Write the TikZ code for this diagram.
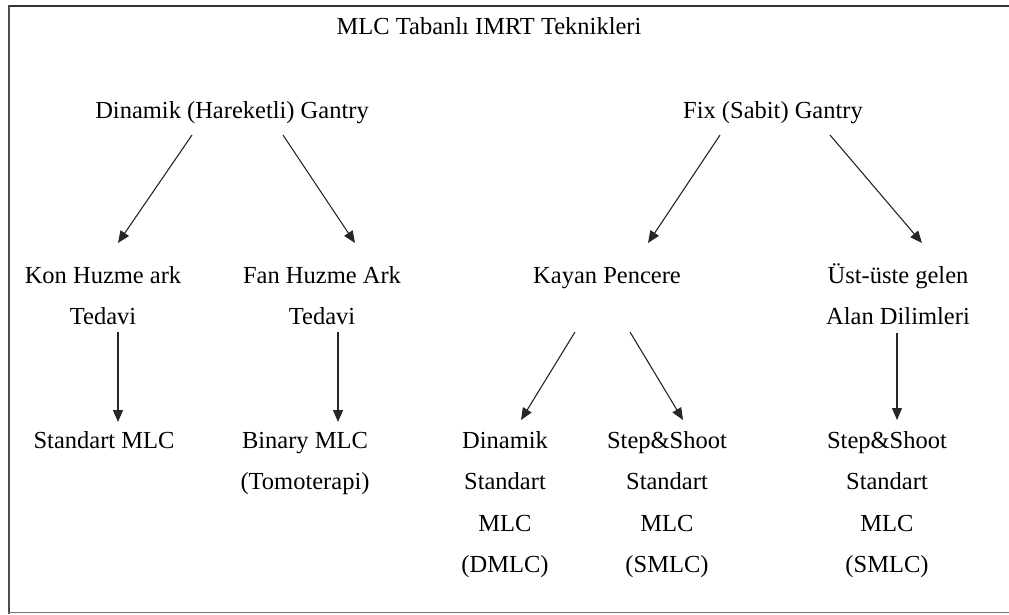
\documentclass[tikz,border=0pt]{standalone}
\usepackage{fontspec}
\setmainfont{Liberation Serif}
\usetikzlibrary{arrows.meta,calc}
\newcommand{\mlines}[1]{\begin{tabular}[t]{@{}c@{}}#1\end{tabular}}
\tikzset{
  lbl/.style={anchor=base, inner sep=0pt, font=\fontsize{24.5}{41.5}\selectfont},
  arr/.style={draw=black!85, line width=1.1pt, -{Triangle[length=12pt,width=10pt]}},
  frameline/.style={line cap=rect}
}
\begin{document}
\begin{tikzpicture}[x=1pt,y=-1pt]
\useasboundingbox (0,0) rectangle (1009,614);
% frame (no right side)
\draw[frameline, draw=black!80, line width=2pt] (9,6) -- (1009,6);
\draw[frameline, draw=black!70, line width=2.5pt] (9,6) -- (9,612.5);
\draw[frameline, draw=black!55, line width=1.5pt] (9,612.5) -- (1009,612.5);
% nodes
\node[lbl] (title) at (489,34) {\mlines{MLC Tabanlı IMRT Teknikleri}};
\node[lbl] (dg) at (232,118) {\mlines{Dinamik (Hareketli) Gantry}};
\node[lbl] (fg) at (773,118) {\mlines{Fix (Sabit) Gantry}};
\node[lbl] (kh) at (103,283) {\mlines{Kon Huzme ark\\Tedavi}};
\node[lbl] (fh) at (322,283) {\mlines{Fan Huzme Ark\\Tedavi}};
\node[lbl] (kp) at (607,283) {\mlines{Kayan Pencere}};
\node[lbl] (ust) at (898,283) {\mlines{Üst-üste gelen\\Alan Dilimleri}};
\node[lbl] (sm) at (104,448) {\mlines{Standart MLC}};
\node[lbl] (bm) at (305,448) {\mlines{Binary MLC\\(Tomoterapi)}};
\node[lbl] (dm) at (505,448) {\mlines{Dinamik\\Standart\\MLC\\(DMLC)}};
\node[lbl] (ss) at (667,448) {\mlines{Step\&Shoot\\Standart\\MLC\\(SMLC)}};
\node[lbl] (ss2) at (887,448) {\mlines{Step\&Shoot\\Standart\\MLC\\(SMLC)}};
% connectors
\draw[arr] ($(dg.base)+(-40,17)$) -- ($(kh.base)+(15,-40)$);
\draw[arr] ($(dg.base)+(51,17)$) -- ($(fh.base)+(33,-40)$);
\draw[arr] ($(fg.base)+(-53,17)$) -- ($(kp.base)+(41,-40)$);
\draw[arr] ($(fg.base)+(57,17)$) -- ($(ust.base)+(24,-40)$);
\draw[arr] ($(kh.base)+(15,49)$) -- ($(sm.base)+(14,-26)$);
\draw[arr] ($(fh.base)+(16,49)$) -- ($(bm.base)+(33,-26)$);
\draw[arr] ($(kp.base)+(-32,49)$) -- ($(dm.base)+(16,-28)$);
\draw[arr] ($(kp.base)+(23,49)$) -- ($(ss.base)+(16,-28)$);
\draw[arr] ($(ust.base)+(-1,50)$) -- ($(ss2.base)+(10,-28)$);
\end{tikzpicture}
\end{document}
